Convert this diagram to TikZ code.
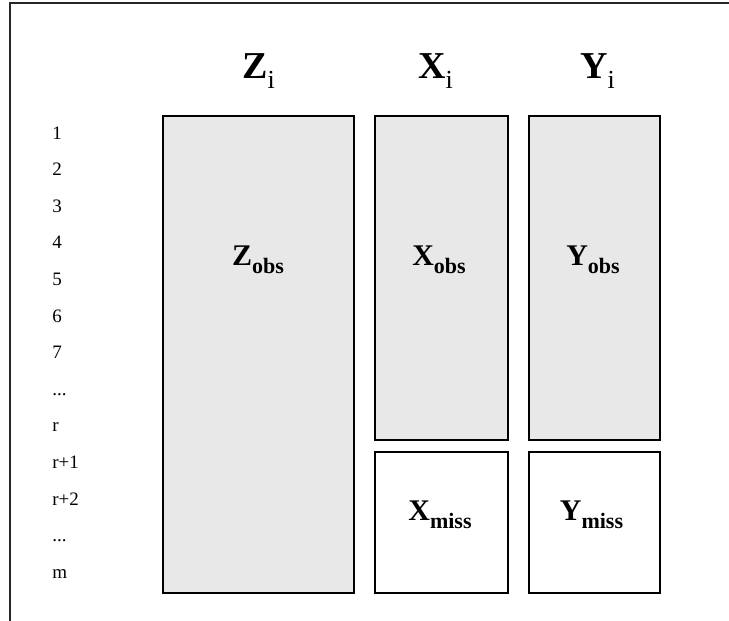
\documentclass[tikz,border=0pt]{standalone}
\usepackage{fontspec}
\setmainfont{Liberation Serif}
\tikzset{
obs block/.style = { rectangle, draw = black, fill = black!9, line width = 0.8pt, inner sep = 0pt },
miss block/.style = { rectangle, draw = black, fill = white, line width = 0.8pt, inner sep = 0pt },
row label/.style = { anchor = base west, inner sep = 0pt, font = \fontsize{9.5}{11}\selectfont },
head label/.style = { anchor = base, inner sep = 0pt, font = \fontsize{19}{22}\selectfont },
block label/.style = { anchor = base, inner sep = 0pt, font = \fontsize{15}{18}\selectfont },
}
\newcommand{\headvar}[2]{\textbf{#1}\raisebox{-5pt}{\fontsize{13}{13}\selectfont #2}}
\newcommand{\blockvar}[2]{\textbf{#1}\raisebox{-4pt}{\fontsize{11}{11}\selectfont\bfseries #2}}

\begin{document}
\begin{tikzpicture}[x = 0.5pt, y = -0.5pt]
    \useasboundingbox (0, 0) rectangle (729, 621);
    % frame
    \draw[line width = 1pt, black!85] (729, 3) -- (9.5, 3) -- (9.5, 621);
    % blocks
    \node[obs block, minimum width = 95.5pt, minimum height = 238.5pt] (z obs) at (258.5, 354.5) {};
    \node[obs block, minimum width = 66.5pt, minimum height = 162pt] (x obs) at (441.5, 278) {};
    \node[obs block, minimum width = 65.5pt, minimum height = 162pt] (y obs) at (594.5, 278) {};
    \node[miss block, minimum width = 66.5pt, minimum height = 70.5pt] (x miss) at (441.5, 522.5) {};
    \node[miss block, minimum width = 65.5pt, minimum height = 70.5pt] (y miss) at (594.5, 522.5) {};
    % column heads
    \node[head label] (z head) at (258.5, 78) {\headvar{Z}{i}};
    \node[head label] (x head) at (435.5, 78) {\headvar{X}{i}};
    \node[head label] (y head) at (597.5, 78) {\headvar{Y}{i}};
    % block labels
    \node[block label] (z obs label) at (258, 265) {\blockvar{Z}{obs}};
    \node[block label] (x obs label) at (439, 265) {\blockvar{X}{obs}};
    \node[block label] (y obs label) at (593, 265) {\blockvar{Y}{obs}};
    \node[block label] (x miss label) at (440, 520) {\blockvar{X}{miss}};
    \node[block label] (y miss label) at (591.5, 520) {\blockvar{Y}{miss}};
    % row numbers
    \node[row label] (row 1) at (52, 139) {1};
    \node[row label] (row 2) at (52, 175.6) {2};
    \node[row label] (row 3) at (52, 212.2) {3};
    \node[row label] (row 4) at (52, 248.8) {4};
    \node[row label] (row 5) at (52, 285.4) {5};
    \node[row label] (row 6) at (52, 322) {6};
    \node[row label] (row 7) at (52, 358.6) {7};
    \node[row label] (row dots a) at (52, 395.2) {...};
    \node[row label] (row r) at (52, 431.8) {r};
    \node[row label] (row r1) at (52, 468.4) {r+1};
    \node[row label] (row r2) at (52, 505) {r+2};
    \node[row label] (row dots b) at (52, 541.6) {...};
    \node[row label] (row m) at (52, 578.2) {m};
\end{tikzpicture}
\end{document}
